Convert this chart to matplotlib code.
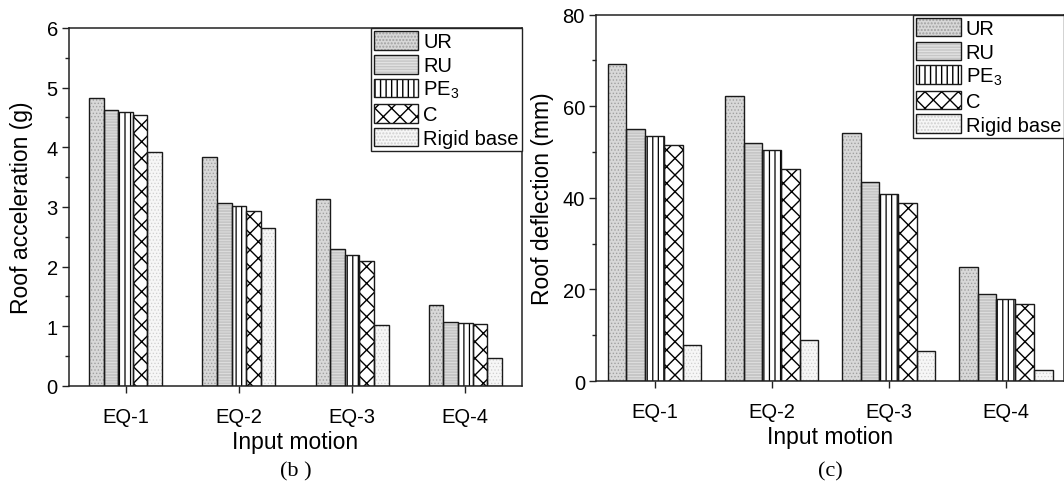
import matplotlib
matplotlib.use("Agg")
import matplotlib.pyplot as plt
import numpy as np
from matplotlib.ticker import MultipleLocator

# ---- data -------------------------------------------------------------
motions = ["EQ-1", "EQ-2", "EQ-3", "EQ-4"]
series = ["UR", "RU", "PE$_3$", "C", "Rigid base"]

# roof acceleration (g)
acc_ur = [4.83, 3.83, 3.14, 1.36]
acc_ru = [4.63, 3.07, 2.30, 1.08]
acc_pe3 = [4.59, 3.02, 2.20, 1.05]
acc_c = [4.54, 2.94, 2.09, 1.04]
acc_rigid = [3.93, 2.65, 1.03, 0.47]

# roof deflection (mm)
def_ur = [69.3, 62.3, 54.2, 24.8]
def_ru = [55.0, 51.9, 43.4, 19.1]
def_pe3 = [53.6, 50.5, 40.9, 18.0]
def_c = [51.5, 46.2, 38.9, 16.9]
def_rigid = [7.8, 9.0, 6.5, 2.3]

# ---- styles -----------------------------------------------------------
# (facecolor, hatch, hatch colour, hatch linewidth)
styles = [
    ("#d8d8d8", ".....", "#a0a0a0", 0.6),
    ("#c6c6c6", "------", "#e2e2e2", 0.6),
    ("#ffffff", "|||", "#000000", 0.9),
    ("#ffffff", "xx", "#000000", 1.0),
    ("#f6f6f6", ".....", "#cfcfcf", 0.5),
]

plt.rcParams["font.family"] = ["Liberation Sans", "DejaVu Sans"]
plt.rcParams["mathtext.fontset"] = "custom"
plt.rcParams["mathtext.rm"] = "Liberation Sans"
plt.rcParams["mathtext.it"] = "Liberation Sans"

fig = plt.figure(figsize=(10.64, 4.89), dpi=100)
ax1 = fig.add_axes([0.0648, 0.2086, 0.4258, 0.7321])
ax2 = fig.add_axes([0.5602, 0.2188, 0.4400, 0.7491])


def draw_panel(ax, data, width, ylim, major, minor, ylabel, ylabelpad,
               tag, tag_y):
    x = np.arange(1, len(motions) + 1)
    handles = []
    for i, (vals, (fc, hatch, hc, hlw)) in enumerate(zip(data, styles)):
        pos = x + (i - 2) * width
        with plt.rc_context({"hatch.linewidth": hlw}):
            fill = ax.bar(pos, vals, width, color=fc, edgecolor=hc,
                          hatch=hatch, linewidth=0, zorder=2)
        for p in fill:
            if hasattr(p, "set_hatch_linewidth"):
                p.set_hatch_linewidth(hlw)
        edge = ax.bar(pos, vals, width, fill=False, edgecolor="#1a1a1a",
                      linewidth=1.0, zorder=3)
        handles.append((fill[0], edge[0]))

    ax.set_xlim(0.5, len(motions) + 0.5)
    ax.set_ylim(*ylim)
    ax.set_xticks(x)
    ax.set_xticklabels(motions)
    ax.yaxis.set_major_locator(MultipleLocator(major))
    ax.yaxis.set_minor_locator(MultipleLocator(minor))
    ax.tick_params(axis="both", which="major", direction="out", length=5,
                   width=1.0, labelsize=14.5, color="#222222")
    ax.tick_params(axis="x", pad=10)
    ax.tick_params(axis="y", pad=3)
    ax.tick_params(axis="y", which="minor", direction="out", length=3,
                   width=1.0, color="#222222")
    for s in ax.spines.values():
        s.set_linewidth(1.1)
        s.set_color("#222222")
    ax.set_ylabel(ylabel, fontsize=16.5, labelpad=ylabelpad)
    ax.set_xlabel("Input motion", fontsize=16.5, labelpad=3)

    leg = ax.legend(handles, series, loc="upper right", borderaxespad=0,
                    fancybox=False, framealpha=1, edgecolor="#222222",
                    fontsize=14.5, handlelength=2.2, handleheight=1.05,
                    handletextpad=0.25, borderpad=0.15, labelspacing=0.18)
    leg.get_frame().set_linewidth(1.0)
    leg.set_zorder(5)

    ax.text(0.5, tag_y, tag, transform=ax.transAxes, ha="center",
            va="center", fontsize=16, family="Liberation Serif")


draw_panel(ax1, [acc_ur, acc_ru, acc_pe3, acc_c, acc_rigid], 0.129,
           (0, 6), 1, 0.5, "Roof acceleration (g)", 10, "(b )", -0.236)
draw_panel(ax2, [def_ur, def_ru, def_pe3, def_c, def_rigid], 0.16,
           (0, 80), 20, 10, "Roof deflection (mm)", 6, "(c)", -0.245)

fig.savefig("out.png", dpi=100)
